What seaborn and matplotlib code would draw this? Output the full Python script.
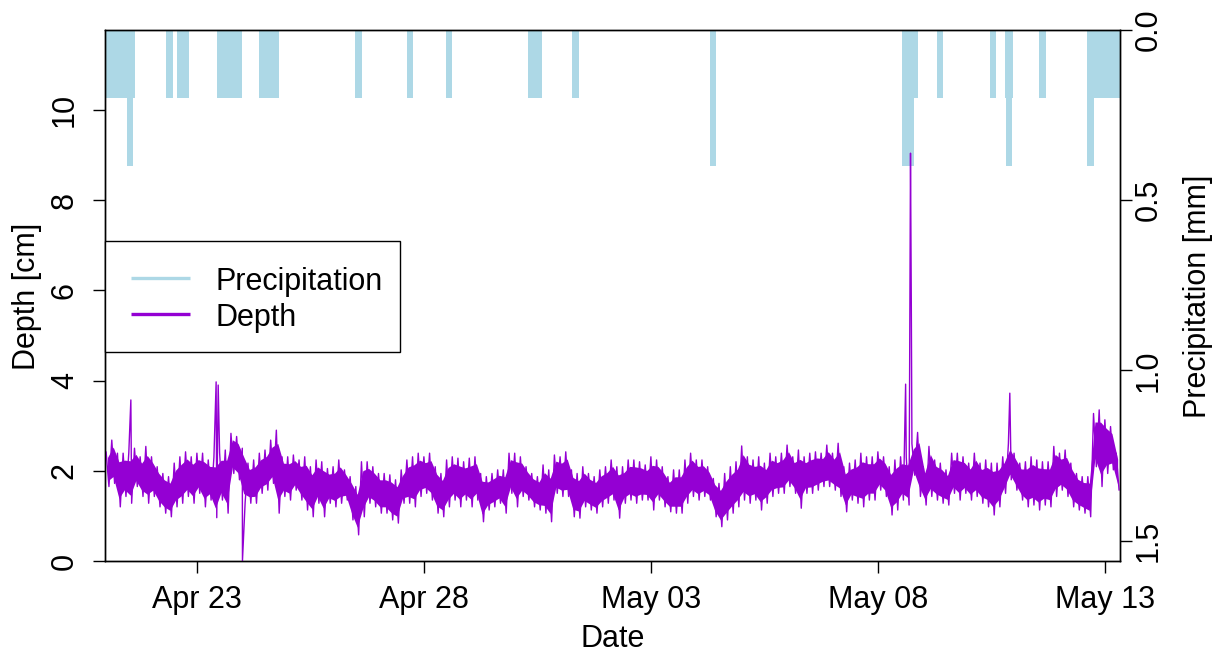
import numpy as np
import pandas as pd
import matplotlib
matplotlib.use("Agg")
import matplotlib.pyplot as plt
import matplotlib.dates as mdates
from matplotlib.lines import Line2D
from matplotlib.patches import Rectangle
import seaborn as sns

# Depth record: upper and lower excursion of each 3-hour block [cm]
series_start = "2021-04-21 00:00"
step_hours = 3
depth_hi = [
    2.42, 2.68, 2.39, 2.39, 2.40, 2.50, 2.31, 2.54, 2.31, 2.09,
    1.94, 1.87, 2.17, 2.31, 2.42, 2.31, 2.39, 2.39, 2.24, 2.30,
    2.40, 2.46, 2.83, 2.76, 2.50, 2.17, 2.24, 2.39, 2.46, 2.68,
    2.90, 2.31, 2.31, 2.35, 2.24, 2.31, 2.09, 2.24, 2.20, 2.05,
    2.09, 2.24, 2.02, 1.87, 1.65, 2.20, 2.20, 2.09, 1.94, 1.94,
    1.91, 1.80, 2.02, 2.24, 2.31, 2.39, 2.31, 2.39, 2.09, 1.94,
    2.24, 2.31, 2.28, 2.20, 2.28, 2.31, 1.94, 1.87, 1.94, 2.02,
    2.02, 2.39, 2.39, 2.31, 2.09, 1.94, 1.87, 2.13, 2.02, 2.35,
    2.31, 2.42, 2.02, 1.94, 2.09, 1.94, 1.87, 2.02, 2.09, 2.24,
    2.09, 2.09, 2.24, 2.24, 2.20, 2.13, 2.31, 2.24, 2.09, 1.87,
    2.02, 2.02, 2.24, 2.39, 2.24, 2.24, 2.09, 1.83, 1.72, 1.94,
    2.09, 2.20, 2.55, 2.31, 2.24, 2.31, 2.17, 2.39, 2.31, 2.39,
    2.57, 2.31, 2.46, 2.31, 2.39, 2.42, 2.39, 2.57, 2.39, 2.61,
    2.09, 2.17, 2.24, 2.39, 2.31, 2.31, 2.42, 2.31, 2.09, 2.24,
    2.31, 2.30, 2.60, 2.85, 2.09, 2.54, 2.24, 2.17, 2.02, 2.39,
    2.39, 2.31, 2.17, 2.39, 2.17, 2.24, 2.17, 2.17, 2.31, 2.60,
    2.39, 2.17, 2.20, 2.31, 2.24, 2.20, 2.20, 2.54, 2.39, 2.46,
    2.17, 1.94, 1.87, 1.87, 3.27, 3.35, 3.13, 2.98, 2.39,
]
depth_lo = [
    1.65, 1.72, 1.20, 1.43, 1.28, 1.65, 1.43, 1.28, 1.43, 1.20,
    1.06, 0.98, 1.20, 1.28, 1.43, 1.28, 1.50, 1.20, 1.35, 0.96,
    1.35, 1.06, 1.94, 1.80, 1.30, 1.28, 1.28, 1.50, 1.57, 1.72,
    1.06, 1.43, 1.35, 1.57, 1.35, 1.13, 0.98, 1.28, 0.98, 1.28,
    1.20, 1.28, 1.35, 0.91, 0.58, 0.98, 1.28, 1.20, 1.06, 1.06,
    0.91, 0.84, 1.28, 1.28, 1.20, 1.43, 1.50, 1.35, 1.06, 0.98,
    1.20, 1.35, 1.20, 1.35, 1.20, 1.35, 0.87, 1.13, 1.20, 1.28,
    1.06, 1.50, 1.20, 1.43, 1.35, 1.20, 1.13, 1.06, 0.87, 1.50,
    1.43, 1.43, 0.98, 0.95, 1.20, 1.13, 1.06, 1.20, 1.28, 1.35,
    0.95, 1.28, 1.35, 1.28, 1.35, 1.35, 1.13, 1.35, 1.20, 1.09,
    1.06, 1.06, 1.28, 1.43, 1.35, 1.43, 1.35, 0.98, 0.76, 0.91,
    1.06, 1.20, 1.35, 1.28, 1.35, 1.13, 1.28, 1.43, 1.50, 1.50,
    1.65, 1.50, 1.17, 1.50, 1.50, 1.57, 1.65, 1.65, 1.57, 1.43,
    1.09, 1.35, 1.28, 1.20, 1.35, 1.35, 1.57, 1.43, 1.02, 1.13,
    1.35, 1.24, 1.90, 1.43, 1.24, 1.43, 1.35, 1.28, 1.24, 1.50,
    1.35, 1.50, 1.35, 1.43, 1.28, 1.20, 1.02, 1.20, 1.50, 1.80,
    1.57, 1.35, 1.20, 1.24, 1.13, 1.24, 1.20, 1.43, 1.57, 1.43,
    1.20, 1.13, 1.06, 0.98, 2.09, 1.65, 1.94, 2.02, 1.57,
]

# Isolated single-reading excursions of the depth record [cm]
spike_time = [
    "2021-04-21 13:05", "2021-04-23 10:10", "2021-04-23 11:15",
    "2021-04-24 00:05", "2021-05-08 14:40", "2021-05-08 17:15",
    "2021-05-08 17:40", "2021-05-10 21:45",
]
spike_depth = [3.57, 3.97, 3.90, 0.00, 3.92, 9.04, 5.75, 3.72]

# Precipitation periods [mm]
rain_start = [
    "2021-04-21 00:00", "2021-04-21 11:10", "2021-04-21 14:20",
    "2021-04-22 07:35", "2021-04-22 13:15", "2021-04-23 10:35",
    "2021-04-24 08:55", "2021-04-26 11:30", "2021-04-27 14:50",
    "2021-04-28 11:30", "2021-04-30 07:00", "2021-04-30 11:00",
    "2021-05-01 06:15", "2021-05-04 07:10", "2021-05-08 13:00",
    "2021-05-08 19:15", "2021-05-09 07:00", "2021-05-10 11:20",
    "2021-05-10 19:00", "2021-05-10 19:45", "2021-05-10 22:50",
    "2021-05-11 13:20", "2021-05-12 14:20", "2021-05-12 14:45",
    "2021-05-12 18:00",
]
rain_end = [
    "2021-04-21 11:10", "2021-04-21 14:20", "2021-04-21 15:15",
    "2021-04-22 11:30", "2021-04-22 19:45", "2021-04-23 23:40",
    "2021-04-24 19:20", "2021-04-26 15:05", "2021-04-27 18:20",
    "2021-04-28 14:50", "2021-04-30 10:50", "2021-04-30 14:30",
    "2021-05-01 09:55", "2021-05-04 10:30", "2021-05-08 19:15",
    "2021-05-08 21:05", "2021-05-09 10:20", "2021-05-10 14:25",
    "2021-05-10 19:45", "2021-05-10 22:50", "2021-05-10 23:25",
    "2021-05-11 16:40", "2021-05-12 14:45", "2021-05-12 18:00",
    "2021-05-13 08:10",
]
rain_mm = [
    0.2, 0.4, 0.2, 0.2, 0.2, 0.2, 0.2, 0.2, 0.2, 0.2, 0.2, 0.2, 0.2,
    0.4, 0.4, 0.2, 0.2, 0.2, 0.2, 0.4, 0.2, 0.2, 0.2, 0.4, 0.2,
]

tick_dates = ["2021-04-23", "2021-04-28", "2021-05-03", "2021-05-08", "2021-05-13"]
depth_ticks = [0, 2, 4, 6, 8, 10]
precip_ticks = [0.0, 0.5, 1.0, 1.5]
legend_labels = ["Precipitation", "Depth"]

DEPTH_COLOR = "#9400D3"
RAIN_COLOR = "#ADD8E6"
FS = 22

sns.set_style("white")
plt.rcParams["font.family"] = ["Liberation Sans", "DejaVu Sans"]
plt.rcParams["text.color"] = "black"

# Interleave upper and lower excursions, then add the isolated readings
t0 = pd.Timestamp(series_start)
n = len(depth_hi)
t_hi = t0 + pd.to_timedelta(np.arange(n) * step_hours, unit="h")
t_lo = t_hi + pd.Timedelta(hours=step_hours / 2)
depth = pd.DataFrame({
    "time": np.concatenate([t_hi.values, t_lo.values,
                            pd.to_datetime(spike_time).values]),
    "depth": np.concatenate([depth_hi, depth_lo, spike_depth]),
}).sort_values("time").reset_index(drop=True)

# dense core of the fluctuating record
hi_arr = np.array(depth_hi)
lo_arr = np.array(depth_lo)
core_hi = hi_arr - 0.16 * (hi_arr - lo_arr)
core_lo = lo_arr + 0.16 * (hi_arr - lo_arr)

W, H = 1220, 654
fig = plt.figure(figsize=(W / 100, H / 100), dpi=100)
ax = fig.add_axes([105 / W, 1 - 561 / H, 1015 / W, 531 / H])
ax2 = ax.twinx()

core_t = t_hi + pd.Timedelta(hours=step_hours / 4)
ax.fill_between(core_t, core_lo, core_hi, color=DEPTH_COLOR, lw=0)
sns.lineplot(data=depth, x="time", y="depth", ax=ax, color=DEPTH_COLOR,
             lw=1.0, estimator=None, sort=False)

starts = mdates.date2num(pd.to_datetime(rain_start))
ends = mdates.date2num(pd.to_datetime(rain_end))
ax2.bar(starts, rain_mm, width=ends - starts, bottom=0, align="edge",
        color=RAIN_COLOR, edgecolor="none", linewidth=0)
ax2.set_ylim(1.56, 0)

# depth trace above the precipitation bars
ax.set_zorder(ax2.get_zorder() + 1)
ax.patch.set_visible(False)

ax.set_xlim(mdates.date2num(pd.Timestamp("2021-04-20 23:25")),
            mdates.date2num(pd.Timestamp("2021-05-13 08:00")))
ax.set_ylim(0, 11.77)
ax.set_xticks(mdates.date2num(pd.to_datetime(tick_dates)))
ax.xaxis.set_major_formatter(mdates.DateFormatter("%b %d"))
ax.set_yticks(depth_ticks)
ax2.set_yticks(precip_ticks)
ax2.set_yticklabels([f"{v:.1f}" for v in precip_ticks])
ax.set_xlabel("")
ax.set_ylabel("")
ax.grid(False)
ax2.grid(False)

ax.tick_params(axis="both", direction="out", length=8.6, width=1,
               color="black", labelsize=FS, labelcolor="black",
               bottom=True, left=True)
ax.tick_params(axis="x", pad=9)
ax.tick_params(axis="y", pad=9.5)
ax2.tick_params(axis="y", direction="out", length=8.6, width=1,
                color="black", labelsize=FS, labelcolor="black",
                right=True, pad=1)
for lab in ax.get_yticklabels():
    lab.set_rotation(90)
    lab.set_va("center")
for lab in ax2.get_yticklabels():
    lab.set_rotation(90)
    lab.set_va("center")

for a in (ax, ax2):
    for s in a.spines.values():
        s.set_color("black")
        s.set_linewidth(1)
        s.set_visible(True)

fig.text(612.5 / W, 1 - 647 / H, "Date", ha="center", va="baseline",
         fontsize=FS, color="black")
fig.text(27 / W, 1 - 296 / H, "Depth [cm]", rotation=90, ha="center",
         va="center", fontsize=FS, color="black")
fig.text(1198 / W, 1 - 296 / H, "Precipitation [mm]", rotation=90,
         ha="center", va="center", fontsize=FS, color="black")

# Legend box: frame, sample lines and labels placed in figure pixels
def fx(px):
    return px / W


def fy(py):
    return 1 - py / H


ft = fig.transFigure
frame = Rectangle((fx(105.5), fy(351.5)), fx(399.5) - fx(105.5),
                  fy(241) - fy(351.5), transform=ft, facecolor="white",
                  edgecolor="black", linewidth=1, zorder=10, clip_on=False)
ax.add_artist(frame)
for label, color, y_line, y_base in zip(legend_labels,
                                        [RAIN_COLOR, DEPTH_COLOR],
                                        [278.3, 314.3], [290, 325.5]):
    ax.add_artist(Line2D([fx(131), fx(189.5)], [fy(y_line), fy(y_line)],
                         transform=ft, color=color, lw=2.4, zorder=11,
                         solid_capstyle="butt", clip_on=False))
    ax.text(fx(215.5), fy(y_base), label, transform=ft, fontsize=FS,
            color="black", ha="left", va="baseline", zorder=12)

fig.savefig("out.png", dpi=100)
